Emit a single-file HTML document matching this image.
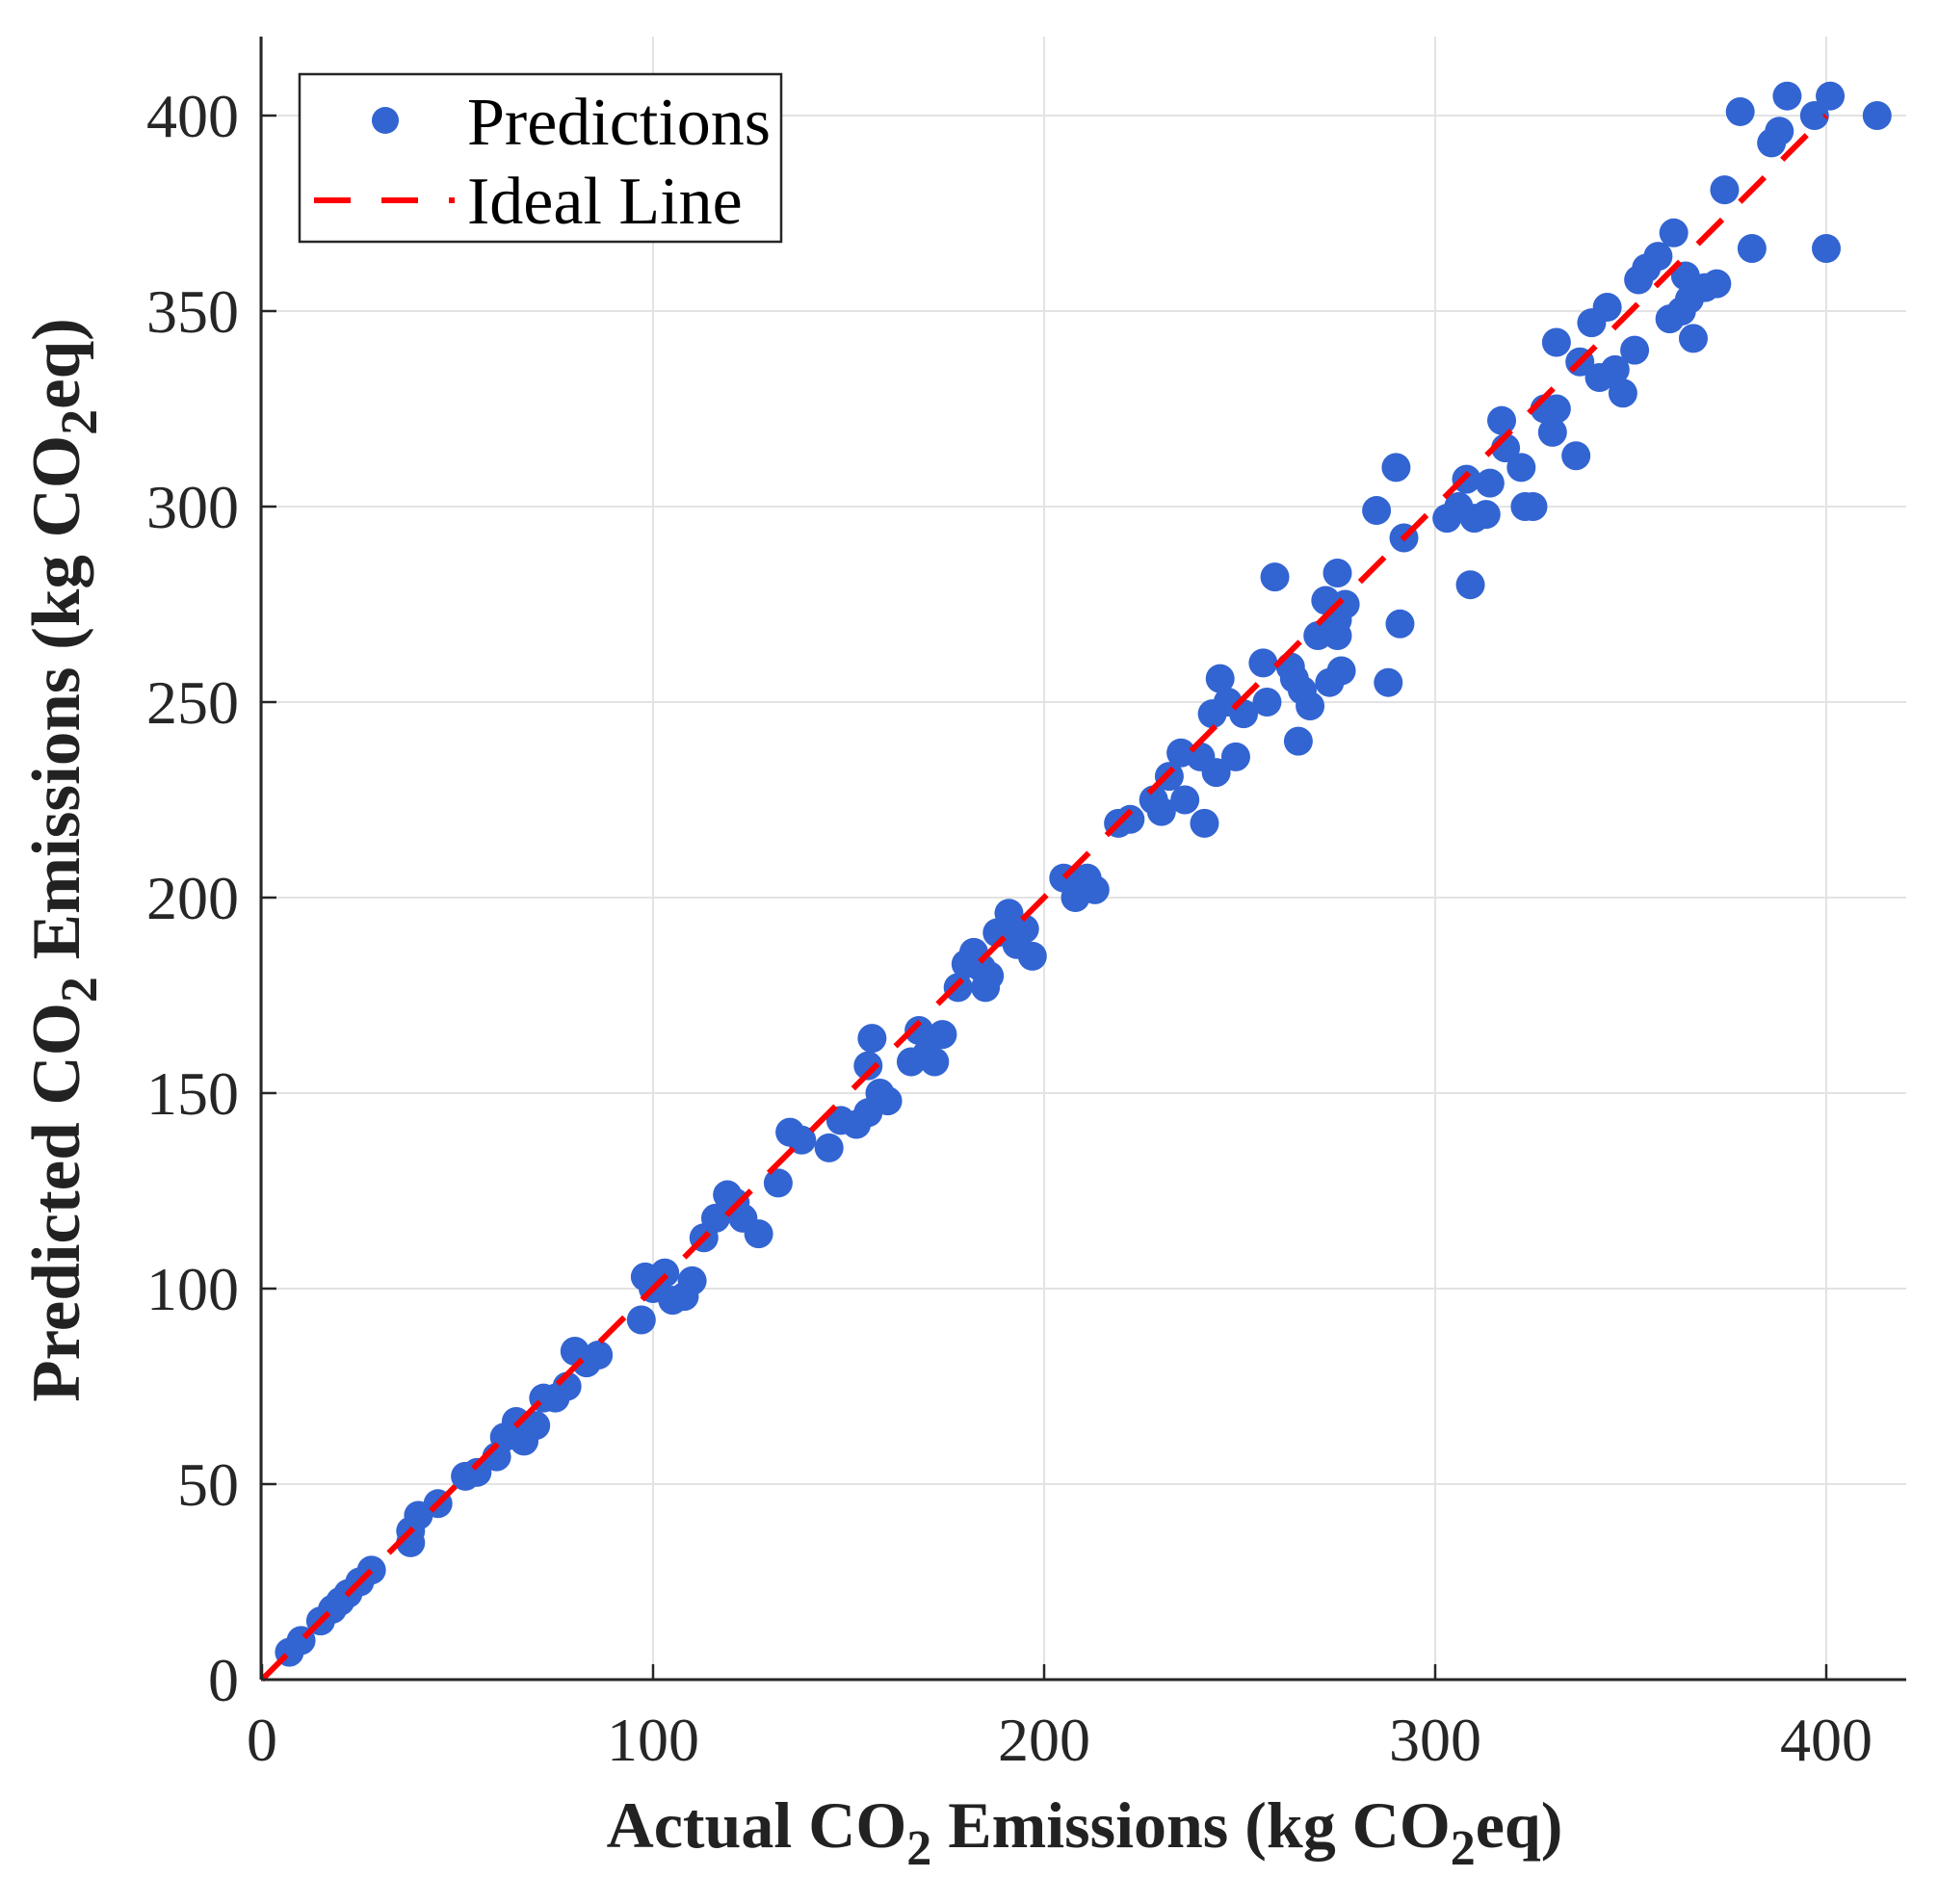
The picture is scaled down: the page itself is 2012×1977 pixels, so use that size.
<!DOCTYPE html>
<html><head><meta charset="utf-8"><style>
html,body{margin:0;padding:0;background:#fff;}
svg{display:block;font-family:"Liberation Serif","Times New Roman",serif;}
</style></head><body>
<svg id="chart" width="2012" height="1977" viewBox="0 0 2012 1977" xmlns="http://www.w3.org/2000/svg">
<g id="grid"></g>
<g id="pts"></g>
<g id="ideal"></g>
<g id="axes"></g>
<g id="legend">
  <rect x="311" y="77" width="500" height="174" fill="#fff" stroke="#262626" stroke-width="2.5"/>
  <circle cx="400" cy="125" r="14" fill="#3264d2"/>
  <text x="485" y="150" font-size="70" fill="#000">Predictions</text>
  <line x1="326" y1="208" x2="472" y2="208" stroke="#ff0000" stroke-width="6" stroke-dasharray="38,32"/>
  <text x="485" y="232" font-size="70" fill="#000">Ideal Line</text>
</g>
<text x="1126" y="1918" font-size="68" font-weight="bold" text-anchor="middle" fill="#222">Actual CO<tspan dy="18" font-size="52">2</tspan><tspan dy="-18"> Emissions (kg CO</tspan><tspan dy="18" font-size="52">2</tspan><tspan dy="-18">eq)</tspan></text>
<text transform="translate(82,893) rotate(-90)" font-size="71" font-weight="bold" text-anchor="middle" fill="#222">Predicted CO<tspan dy="18" font-size="54">2</tspan><tspan dy="-18"> Emissions (kg CO</tspan><tspan dy="18" font-size="54">2</tspan><tspan dy="-18">eq)</tspan></text>
</svg>
<script>
const xTicks=[0,100,200,300,400];
const yTicks=[0,50,100,150,200,250,300,350,400];
const actual=[7,10,15,18,20,22,25,28,38,38,40,45,52,55,60,62,65,67,70,72,75,78,80,83,86,97,98,100,103,105,108,110,113,116,119,121,123,127,132,135,138,145,148,152,155,155,156,158,160,166,168,170,172,174,178,180,182,184,185,186,188,191,193,195,197,205,208,211,213,219,222,228,230,232,235,236,240,241,243,244,245,247,249,251,256,257,259,263,264,265,266,268,270,272,273,275,275,275,277,276,285,288,290,291,292,303,306,308,309,310,313,314,317,318,322,323,325,328,330,331,331,336,337,340,342,344,346,348,351,352,354,357,360,361,363,364,365,366,369,372,374,378,381,386,388,390,397,400,401,413];
const predicted=[7,10,15,18,20,22,25,28,35,38,42,45,52,53,57,62,66,61,65,72,72,75,84,81,83,92,103,100,104,97,98,102,113,118,124,122,118,114,127,140,138,136,143,142,145,157,164,150,148,158,166,160,158,165,177,183,186,182,177,180,191,196,188,192,185,205,200,205,202,219,220,225,222,231,237,225,236,219,247,232,256,250,236,247,260,250,282,259,256,240,253,249,267,276,255,283,271,267,275,258,299,255,310,270,292,297,300,307,280,297,298,306,322,315,310,300,300,325,319,325,342,313,337,347,333,351,335,329,340,358,361,364,348,370,350,359,353,343,356,357,381,401,366,393,396,405,400,366,405,400];
const ideal=[0,400];
const X0=272,X1=1896,Y0=1744,Y1=120,LEFT=271,RIGHT=1979,TOP=38;
const xs=v=>X0+(v-0)*(X1-X0)/400;
const ys=v=>Y0-(v-0)*(Y0-Y1)/400;
const NS="http://www.w3.org/2000/svg";
function mk(tag,attrs,parent){const e=document.createElementNS(NS,tag);for(const k in attrs)e.setAttribute(k,attrs[k]);parent.appendChild(e);return e;}
const grid=document.getElementById('grid'),axes=document.getElementById('axes'),pts=document.getElementById('pts'),idealG=document.getElementById('ideal');
xTicks.forEach(t=>{
  const g=mk('line',{x1:xs(t),x2:xs(t),y1:TOP,y2:Y0,stroke:'#e3e3e3','stroke-width':2},grid);
  
  
  const tk=mk('line',{x1:xs(t),x2:xs(t),y1:Y0,y2:Y0-16,stroke:'#262626','stroke-width':2.5},axes);
  
  
  const tx=mk('text',{x:xs(t),y:1828,'font-size':64,'text-anchor':'middle',fill:'#262626'},axes);
  tx.textContent=t;
  
  
});
yTicks.forEach(t=>{
  const g=mk('line',{x1:LEFT,x2:RIGHT,y1:ys(t),y2:ys(t),stroke:'#e3e3e3','stroke-width':2},grid);
  
  
  const tk=mk('line',{x1:LEFT,x2:LEFT+16,y1:ys(t),y2:ys(t),stroke:'#262626','stroke-width':2.5},axes);
  
  
  const tx=mk('text',{x:248,y:ys(t)+22,'font-size':64,'text-anchor':'end',fill:'#262626'},axes);
  tx.textContent=t;
  
  
});
const ya=mk('line',{x1:LEFT,x2:LEFT,y1:TOP,y2:Y0,stroke:'#262626','stroke-width':3},axes);


const xa=mk('line',{x1:LEFT,x2:RIGHT,y1:Y0,y2:Y0,stroke:'#262626','stroke-width':3},axes);


actual.forEach((a,i)=>{
  const c=mk('circle',{cx:xs(a),cy:ys(predicted[i]),r:15,fill:'#3264d2'},pts);
  
  
});
const il=mk('line',{x1:xs(ideal[0]),y1:ys(ideal[0]),x2:xs(ideal[1]),y2:ys(ideal[1]),stroke:'#ff0000','stroke-width':6,'stroke-dasharray':'36,26'},idealG);


</script>
</body></html>
